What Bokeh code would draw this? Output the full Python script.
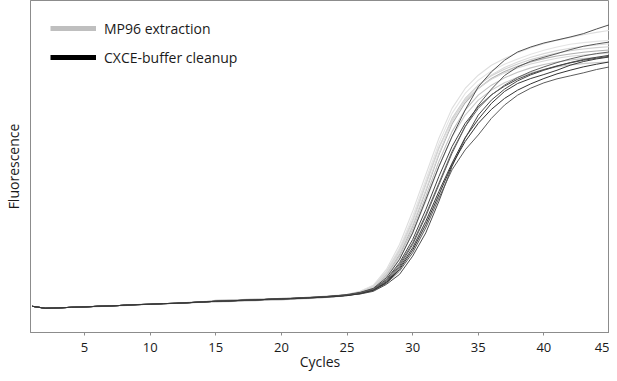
from bokeh.plotting import figure
from bokeh.models import FixedTicker, Legend, LegendItem
from bokeh.embed import file_html
from bokeh.resources import INLINE

cycles = list(range(1, 46))
x_ticks = [5, 10, 15, 20, 25, 30, 35, 40, 45]

# MP96 extraction (gray curves), cycles 1..45
mp96_g1 = [7.9, 7.3, 7.4, 7.6, 7.8, 7.9, 8.0, 8.2, 8.3, 8.5, 8.7, 8.8, 9.0, 9.1, 9.5, 9.6, 9.7, 9.7, 9.9, 10.0, 10.2, 10.4, 10.6, 10.9, 11.4, 12.4,
           14.2, 19.0, 26.5, 36.5, 47.5, 58.5, 67.5, 73.5, 77.5, 80.5, 82.5, 84.3, 85.8, 87.0, 88.0, 88.9, 89.7, 90.4, 91.0]
mp96_g2 = [7.9, 7.3, 7.4, 7.6, 7.7, 7.9, 8.0, 8.2, 8.4, 8.5, 8.7, 8.9, 9.0, 9.3, 9.6, 9.8, 9.9, 10.0, 10.1, 10.0, 10.2, 10.4, 10.5, 10.8, 11.3, 12.4,
           14.0, 18.5, 25.5, 35.0, 46.0, 57.0, 66.0, 72.0, 76.0, 78.8, 80.8, 82.4, 83.8, 85.0, 86.0, 86.8, 87.3, 87.7, 88.0]
mp96_g3 = [7.9, 7.3, 7.4, 7.6, 7.7, 7.8, 8.0, 8.1, 8.4, 8.5, 8.6, 8.8, 8.9, 9.1, 9.2, 9.3, 9.5, 9.6, 9.8, 9.9, 10.1, 10.3, 10.5, 10.8, 11.2, 12.2,
           13.8, 18.0, 24.5, 33.5, 44.5, 55.5, 64.5, 70.5, 74.5, 77.3, 79.3, 80.9, 82.2, 83.3, 84.2, 84.9, 85.4, 85.8, 86.1]
mp96_g4 = [7.9, 7.3, 7.4, 7.6, 7.7, 7.9, 8.0, 8.2, 8.4, 8.6, 8.7, 8.8, 9.0, 9.2, 9.7, 9.8, 9.9, 10.0, 10.1, 10.2, 10.4, 10.6, 10.8, 11.0, 11.4, 12.2,
           13.6, 17.5, 23.5, 32.0, 42.5, 53.5, 62.8, 69.2, 73.5, 76.5, 78.6, 80.2, 81.5, 82.5, 83.3, 83.9, 84.4, 84.8, 85.1]
mp96_g5 = [7.9, 7.3, 7.4, 7.6, 7.7, 7.9, 8.0, 8.2, 8.4, 8.5, 8.7, 8.8, 9.0, 9.1, 9.3, 9.4, 9.5, 9.6, 9.7, 9.8, 10.0, 10.2, 10.4, 10.7, 11.1, 12.2,
           13.9, 18.2, 25.0, 34.0, 45.0, 55.8, 64.0, 69.8, 73.6, 76.3, 78.2, 79.7, 80.9, 81.8, 82.6, 83.2, 83.6, 83.9, 84.2]
mp96_g6 = [7.9, 7.3, 7.4, 7.6, 7.7, 7.9, 8.0, 8.2, 8.4, 8.5, 8.7, 8.8, 9.1, 9.3, 9.4, 9.7, 9.9, 10.0, 10.1, 10.3, 10.4, 10.5, 10.7, 11.0, 11.4, 12.1,
           13.4, 17.2, 23.0, 31.0, 41.0, 51.5, 60.5, 67.0, 71.5, 74.5, 76.7, 78.4, 79.7, 80.7, 81.5, 82.1, 82.5, 82.8, 83.0]
mp96_g7 = [7.9, 7.3, 7.4, 7.6, 7.7, 7.9, 8.0, 8.2, 8.4, 8.5, 8.7, 8.8, 9.0, 9.2, 9.3, 9.4, 9.6, 9.7, 9.8, 9.9, 10.1, 10.3, 10.5, 10.8, 11.2, 12.0,
           13.2, 16.8, 22.3, 30.0, 39.5, 50.0, 59.0, 65.5, 70.0, 73.0, 75.2, 76.9, 78.2, 79.2, 80.0, 80.6, 81.0, 81.3, 81.5]
mp96_g8 = [7.9, 7.3, 7.4, 7.6, 7.7, 7.9, 8.0, 8.2, 8.4, 8.5, 8.7, 8.8, 9.0, 9.2, 9.5, 9.6, 9.8, 9.9, 10.1, 10.2, 10.4, 10.6, 10.8, 11.1, 11.5, 12.2,
           13.6, 17.8, 24.0, 32.5, 43.0, 54.0, 63.5, 70.0, 74.5, 77.6, 79.8, 81.5, 82.9, 84.0, 84.9, 85.6, 86.2, 86.6, 87.0]

# CXCE-buffer cleanup (black curves), cycles 1..45
cxce_b1 = [7.9, 7.3, 7.4, 7.6, 7.7, 7.9, 8.0, 8.2, 8.4, 8.5, 8.7, 8.8, 9.0, 9.2, 9.4, 9.5, 9.7, 9.8, 10.0, 10.1, 10.3, 10.5, 10.7, 11.0, 11.4, 12.1,
           13.3, 16.5, 22.0, 30.0, 40.0, 50.0, 59.0, 67.0, 74.0, 78.5, 82.0, 84.5, 86.0, 87.2, 88.1, 89.0, 90.0, 91.4, 92.7]
cxce_b2 = [7.9, 7.3, 7.4, 7.6, 7.7, 7.9, 8.0, 8.2, 8.4, 8.5, 8.7, 8.8, 9.0, 9.2, 9.4, 9.6, 9.7, 9.8, 10.0, 10.2, 10.3, 10.5, 10.7, 11.0, 11.3, 11.9,
           12.9, 15.5, 20.0, 26.5, 35.0, 44.5, 54.0, 62.0, 68.5, 73.3, 77.4, 80.0, 81.7, 82.9, 84.0, 85.2, 86.2, 86.9, 87.5]
cxce_b3 = [7.9, 7.3, 7.4, 7.6, 7.7, 7.9, 8.0, 8.2, 8.4, 8.5, 8.7, 8.8, 9.0, 9.2, 9.4, 9.5, 9.7, 9.8, 10.0, 10.1, 10.3, 10.4, 10.6, 10.9, 11.2, 11.8,
           12.8, 15.2, 19.5, 25.5, 33.5, 42.5, 51.0, 58.7, 64.2, 69.0, 72.6, 75.0, 76.5, 77.7, 79.0, 80.5, 81.6, 82.4, 83.0]
cxce_b4 = [7.9, 7.3, 7.4, 7.6, 7.7, 7.9, 8.0, 8.2, 8.4, 8.5, 8.7, 8.8, 9.0, 9.2, 9.4, 9.5, 9.6, 9.8, 9.9, 10.1, 10.3, 10.5, 10.7, 10.9, 11.2, 11.6,
           12.4, 14.5, 17.5, 23.0, 30.0, 39.5, 50.0, 58.5, 65.5, 70.0, 73.3, 75.8, 77.6, 79.0, 80.2, 81.2, 82.0, 82.6, 83.2]
cxce_b5 = [7.9, 7.3, 7.4, 7.6, 7.7, 7.9, 8.0, 8.2, 8.4, 8.5, 8.7, 8.8, 9.0, 9.2, 9.4, 9.5, 9.7, 9.8, 10.0, 10.1, 10.2, 10.4, 10.6, 10.9, 11.2, 11.7,
           12.6, 14.8, 18.5, 24.0, 31.5, 40.5, 49.0, 55.0, 59.5, 64.5, 68.5, 71.5, 73.6, 75.2, 76.4, 77.3, 78.2, 79.2, 80.0]
cxce_b6 = [7.9, 7.3, 7.4, 7.6, 7.7, 7.9, 8.0, 8.2, 8.4, 8.5, 8.7, 8.8, 9.0, 9.2, 9.4, 9.5, 9.7, 9.8, 10.0, 10.1, 10.3, 10.5, 10.7, 11.0, 11.3, 12.0,
           13.1, 16.0, 21.0, 28.0, 37.0, 47.0, 56.0, 63.0, 68.0, 71.6, 74.2, 76.3, 77.9, 79.2, 80.3, 81.3, 82.2, 82.9, 83.5]
cxce_b7 = [7.9, 7.3, 7.4, 7.6, 7.7, 7.9, 8.0, 8.2, 8.4, 8.5, 8.7, 8.8, 9.0, 9.2, 9.4, 9.5, 9.7, 9.8, 10.0, 10.1, 10.2, 10.4, 10.6, 10.8, 11.2, 11.9,
           13.0, 15.8, 20.5, 27.0, 35.5, 45.0, 54.5, 62.0, 67.5, 71.5, 74.5, 76.8, 78.6, 80.0, 81.3, 82.4, 83.3, 84.0, 84.5]
cxce_b8 = [7.9, 7.3, 7.4, 7.6, 7.7, 7.9, 8.0, 8.2, 8.4, 8.5, 8.7, 8.8, 9.0, 9.2, 9.4, 9.5, 9.7, 9.8, 10.0, 10.1, 10.2, 10.4, 10.6, 10.8, 11.1, 11.7,
           12.7, 15.0, 19.0, 24.8, 32.5, 41.5, 50.5, 57.5, 63.0, 67.2, 70.5, 73.0, 74.9, 76.5, 77.9, 79.0, 80.0, 80.8, 81.5]

mp96_series = [mp96_g1, mp96_g2, mp96_g3, mp96_g4, mp96_g5, mp96_g6, mp96_g7, mp96_g8]
mp96_colors = ["#dedede", "#e4e4e4", "#cfcfcf", "#b0b0b0", "#d6d6d6", "#c2c2c2", "#cacaca", "#dadada"]
cxce_series = [cxce_b1, cxce_b2, cxce_b3, cxce_b4, cxce_b5, cxce_b6, cxce_b7, cxce_b8]
cxce_colors = ["#505050", "#585858", "#3a3a3a", "#4a4a4a", "#5c5c5c", "#444444", "#626262", "#333333"]

FONT = "Open Sans"
AX_COLOR = "#8c8c8c"
TXT = "#1a1a1a"

p = figure(width=609, height=373, x_range=(0.88, 45), y_range=(0, 100),
           output_backend="svg", toolbar_location=None,
           min_border_left=24, min_border_right=0, min_border_top=0, min_border_bottom=0)
p.grid.visible = False
p.outline_line_color = AX_COLOR
p.outline_line_width = 1

for ys, c in zip(mp96_series, mp96_colors):
    p.line(x=cycles, y=ys, line_color=c, line_width=1.1)
for ys, c in zip(cxce_series, cxce_colors):
    p.line(x=cycles, y=ys, line_color=c, line_width=1.0)

# legend swatches: hidden thick copies of one series per group
r_mp = p.line(x=cycles, y=mp96_g1, line_color="#bfbfbf", line_width=5, visible=False)
r_cx = p.line(x=cycles, y=cxce_b1, line_color="#000000", line_width=5, visible=False)

legend = Legend(items=[LegendItem(label="MP96 extraction", renderers=[r_mp]),
                       LegendItem(label="CXCE-buffer cleanup", renderers=[r_cx])],
                location=(20, 265), margin=0, padding=0, spacing=9,
                glyph_width=46, glyph_height=20, label_height=20, label_standoff=8,
                label_text_font=FONT, label_text_font_size="14px", label_text_color=TXT,
                border_line_color=None, background_fill_alpha=0,
                inactive_fill_alpha=0, click_policy="none")
p.add_layout(legend, "center")

xa = p.xaxis[0]
xa.ticker = FixedTicker(ticks=x_ticks)
xa.axis_line_color = AX_COLOR
xa.major_tick_line_color = AX_COLOR
xa.major_tick_in = 0
xa.major_tick_out = 3
xa.minor_tick_line_color = None
xa.major_label_standoff = 7
xa.major_label_text_font = FONT
xa.major_label_text_font_size = "13px"
xa.major_label_text_color = TXT
xa.axis_label = "Cycles"
xa.axis_label_text_font = FONT
xa.axis_label_text_font_size = "14px"
xa.axis_label_text_font_style = "normal"
xa.axis_label_text_color = TXT
xa.axis_label_standoff = -3

ya = p.yaxis[0]
ya.ticker = FixedTicker(ticks=[])
ya.axis_line_color = AX_COLOR
ya.major_tick_line_color = None
ya.minor_tick_line_color = None
ya.axis_label = "Fluorescence"
ya.axis_label_text_font = FONT
ya.axis_label_text_font_size = "14px"
ya.axis_label_text_font_style = "normal"
ya.axis_label_text_color = TXT
ya.axis_label_standoff = 8

open("out.html", "w").write(file_html(p, INLINE))
